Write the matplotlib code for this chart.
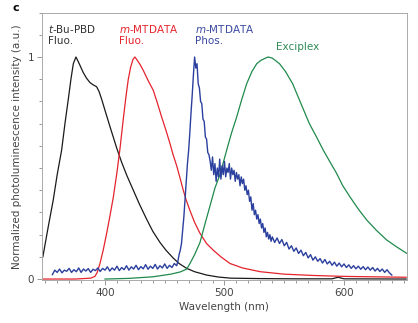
import matplotlib
matplotlib.use('Agg')
import matplotlib.pyplot as plt
from matplotlib.ticker import MultipleLocator

# t-Bu-PBD fluorescence
wl_pbd = [348, 350, 352.5, 356.7, 360, 363.7, 366.5, 369.3, 371.5, 373.5, 375.7, 378, 381.8, 384.5, 387.4,
          390, 393, 395, 397.2, 400, 404.2, 409.8, 414, 418, 423.7, 429, 434.8, 440, 446, 451, 457, 462,
          468.4, 475, 485, 495, 505, 530, 560, 590, 595, 600, 652]
i_pbd = [0.10, 0.16, 0.235, 0.356, 0.47, 0.58, 0.70, 0.81, 0.90, 0.97, 1.0, 0.975, 0.93, 0.905, 0.885,
         0.875, 0.866, 0.845, 0.81, 0.76, 0.686, 0.59, 0.525, 0.47, 0.40, 0.335, 0.27, 0.215, 0.165, 0.13,
         0.095, 0.07, 0.048, 0.033, 0.018, 0.009, 0.004, 0.002, 0.001, 0.001, 0.008, 0.001, 0.0]

# m-MTDATA fluorescence
wl_mf = [348, 375, 388, 391.6, 393.5, 395.8, 398.5, 401.4, 404, 407, 410, 412.6, 415.3, 417.5, 419.5,
         421.5, 423.5, 425.1, 427, 429.5, 432, 436, 440.4, 444, 447.4, 451, 454.4, 457, 460, 462.8,
         465.5, 468, 471, 475, 479.5, 485, 490.6, 497, 504.6, 515, 530, 550, 575, 600, 625, 652]
i_mf = [0.0, 0.0, 0.004, 0.012, 0.03, 0.07, 0.13, 0.206, 0.28, 0.37, 0.48, 0.59, 0.72, 0.82, 0.90,
        0.955, 0.99, 1.0, 0.985, 0.965, 0.94, 0.895, 0.85, 0.79, 0.73, 0.67, 0.61, 0.56, 0.51, 0.455,
        0.40, 0.355, 0.31, 0.255, 0.206, 0.16, 0.13, 0.10, 0.07, 0.05, 0.033, 0.022, 0.016, 0.012, 0.01, 0.008]

# m-MTDATA phosphorescence (noisy), read in four stretches
wl_mp_a = list(range(356, 461, 2))
i_mp_a = [0.020, 0.040, 0.030, 0.045, 0.028, 0.040, 0.035, 0.048, 0.030, 0.042,
          0.033, 0.050, 0.030, 0.045, 0.036, 0.047, 0.030, 0.044, 0.038, 0.050,
          0.034, 0.048, 0.040, 0.055, 0.036, 0.050, 0.040, 0.058, 0.038, 0.052,
          0.042, 0.060, 0.040, 0.055, 0.045, 0.062, 0.042, 0.056, 0.046, 0.065,
          0.044, 0.058, 0.048, 0.066, 0.045, 0.060, 0.050, 0.068, 0.048, 0.062,
          0.052, 0.070, 0.060]
wl_mp_b = list(range(461, 488))
i_mp_b = [0.08, 0.11, 0.13, 0.16, 0.22, 0.28, 0.36, 0.44, 0.52, 0.58,
          0.66, 0.75, 0.83, 0.92, 1.0, 0.95, 0.97, 0.88, 0.86, 0.80,
          0.79, 0.72, 0.71, 0.64, 0.63, 0.57, 0.56]
wl_mp_c = list(range(488, 541))
i_mp_c = [0.53, 0.49, 0.55, 0.47, 0.52, 0.44, 0.50, 0.46, 0.54, 0.45,
          0.51, 0.47, 0.53, 0.46, 0.50, 0.48, 0.52, 0.45, 0.50, 0.47,
          0.49, 0.44, 0.48, 0.45, 0.47, 0.42, 0.46, 0.43, 0.45, 0.40,
          0.42, 0.38, 0.40, 0.35, 0.37, 0.31, 0.34, 0.29, 0.31, 0.27,
          0.29, 0.25, 0.27, 0.23, 0.25, 0.21, 0.23, 0.19, 0.21, 0.18,
          0.20, 0.17, 0.19]
wl_mp_d = list(range(542, 641, 2))
i_mp_d = [0.165, 0.185, 0.160, 0.178, 0.150, 0.165, 0.135, 0.150, 0.125, 0.140,
          0.115, 0.130, 0.105, 0.120, 0.095, 0.110, 0.085, 0.100, 0.080, 0.092,
          0.072, 0.088, 0.068, 0.080, 0.062, 0.076, 0.058, 0.072, 0.055, 0.068,
          0.052, 0.064, 0.048, 0.060, 0.046, 0.058, 0.044, 0.056, 0.042, 0.054,
          0.040, 0.052, 0.036, 0.048, 0.034, 0.045, 0.030, 0.042, 0.028, 0.018]
wl_mp = wl_mp_a + wl_mp_b + wl_mp_c + wl_mp_d
i_mp = i_mp_a + i_mp_b + i_mp_c + i_mp_d

# exciplex
wl_ex = [400, 420, 440, 455, 463, 468.4, 471.1, 475, 479.5, 483.5, 487.9, 492, 496.2, 501.8, 506,
         510.2, 514.5, 518.6, 523, 527, 530.5, 533.9, 536.5, 540, 546, 551, 557, 564, 571, 577,
         582.7, 588, 593.8, 599, 605, 612, 619, 627, 635.7, 644, 652.4]
i_ex = [0.0, 0.003, 0.01, 0.022, 0.032, 0.045, 0.07, 0.11, 0.165, 0.245, 0.33, 0.41, 0.47, 0.58, 0.66,
        0.73, 0.81, 0.88, 0.935, 0.97, 0.985, 0.994, 1.0, 0.995, 0.97, 0.935, 0.88, 0.79, 0.70, 0.64,
        0.58, 0.53, 0.476, 0.42, 0.37, 0.315, 0.266, 0.22, 0.176, 0.145, 0.116]

x_ticks = [400, 500, 600]
y_ticks = [0, 1]

fig = plt.figure(figsize=(4.18, 3.23), dpi=100)
ax = fig.add_axes([0.1005, 0.133, 0.872, 0.828])

ax.plot(wl_pbd, i_pbd, color='#1a1a1a', lw=0.9)
ax.plot(wl_mf, i_mf, color='#e5232d', lw=0.9)
ax.plot(wl_ex, i_ex, color='#1f8a4c', lw=0.9)
ax.plot(wl_mp, i_mp, color='#2b3f9e', lw=1.0)

ax.set_xlim(347.3, 652.3)
ax.set_ylim(-0.0045, 1.2)
ax.set_xticks(x_ticks)
ax.set_yticks(y_ticks)
ax.xaxis.set_minor_locator(MultipleLocator(10))
ax.yaxis.set_minor_locator(MultipleLocator(0.1))
ax.tick_params(which='both', direction='out', colors='#888888', labelcolor='#444444', labelsize=7.5, width=0.6)
ax.tick_params(which='major', length=3.5, pad=2)
ax.tick_params(which='minor', length=2)
for s in ax.spines.values():
    s.set_color('#aaaaaa')
    s.set_linewidth(0.7)

ax.set_xlabel('Wavelength (nm)', fontsize=7.5, color='#444444', labelpad=3)
ax.set_ylabel('Normalized photoluminescence intensity (a.u.)', fontsize=7.5, color='#444444', labelpad=4)

ax.text(352, 1.1, '$\\it{t}$-Bu-PBD\nFluo.', fontsize=7.5, color='#333333', va='center', linespacing=1.15)
ax.text(412, 1.1, '$\\it{m}$-MTDATA\nFluo.', fontsize=7.5, color='#e5232d', va='center', linespacing=1.15)
ax.text(475, 1.1, '$\\it{m}$-MTDATA\nPhos.', fontsize=7.5, color='#3a4aa0', va='center', linespacing=1.15)
ax.text(543, 1.045, 'Exciplex', fontsize=7.5, color='#2e8b57', va='center')

fig.text(0.03, 0.975, 'c', fontsize=8, fontweight='bold', va='center')

fig.savefig('out.png', dpi=100)
